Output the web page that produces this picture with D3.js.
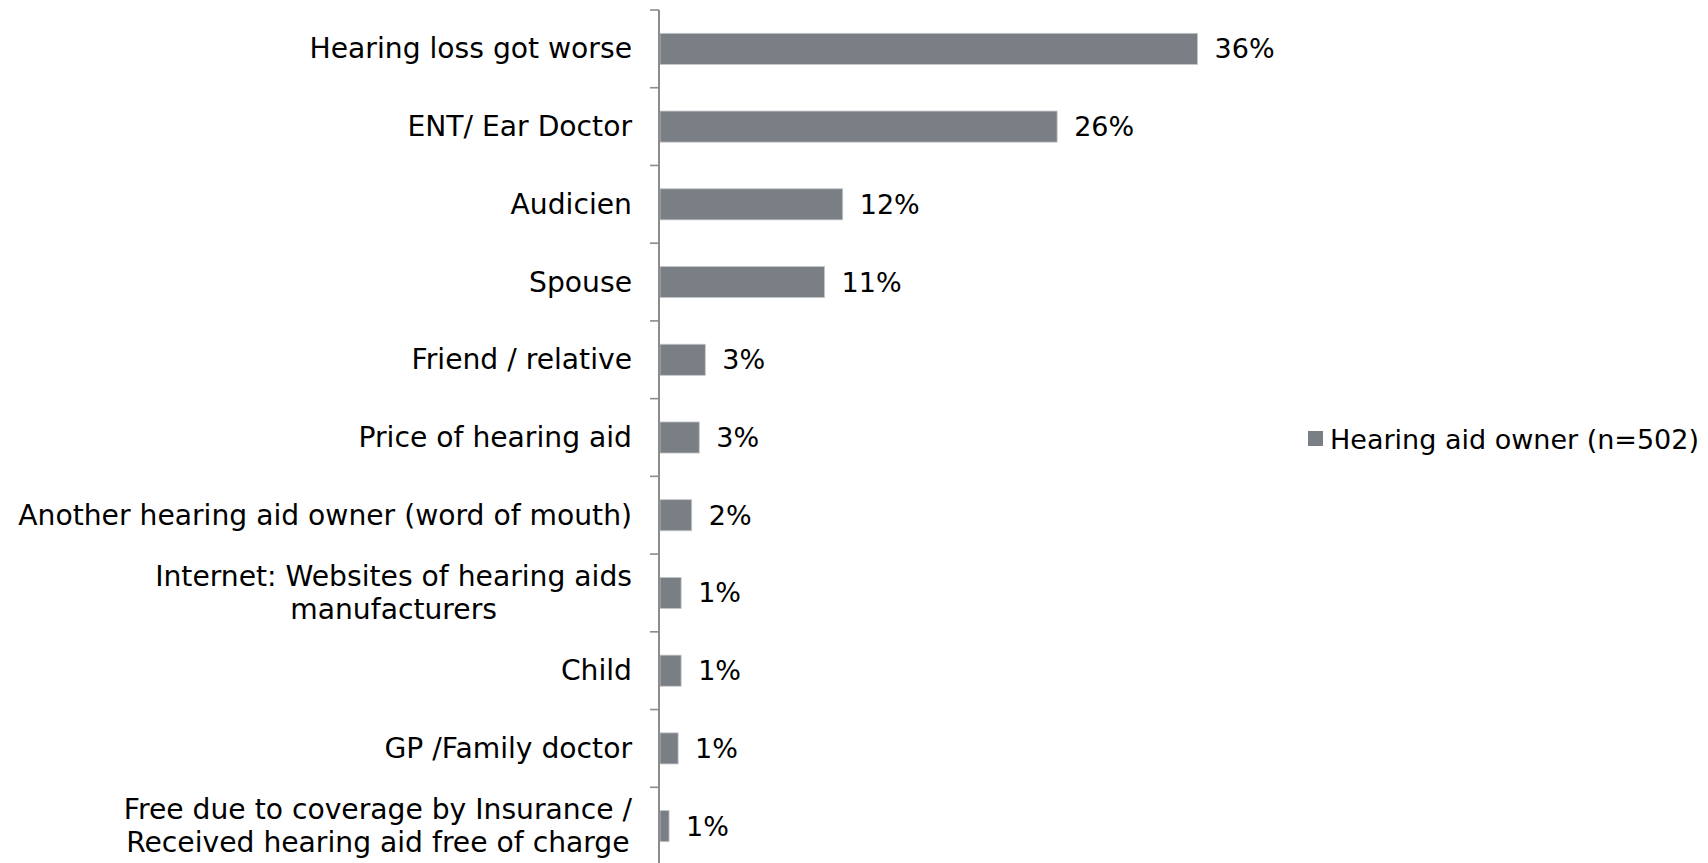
<!DOCTYPE html>
<html>
<head>
<meta charset="utf-8">
<script src="https://cdn.jsdelivr.net/npm/d3@7"></script>
<style>
  html, body { margin: 0; padding: 0; background: #ffffff; }
  svg { display: block; }
  text { font-family: "DejaVu Sans", Verdana, sans-serif; fill: #000; }
</style>
</head>
<body>
<svg id="chart" width="1708" height="863"></svg>
<script>
const categories = [
  "Hearing loss got worse",
  "ENT/ Ear Doctor",
  "Audicien",
  "Spouse",
  "Friend / relative",
  "Price of hearing aid",
  "Another hearing aid owner (word of mouth)",
  "Internet: Websites of hearing aids\nmanufacturers",
  "Child",
  "GP /Family doctor",
  "Free due to coverage by Insurance /\nReceived hearing aid free of charge"
];
const values = [35.6, 26.3, 12.1, 10.9, 3.0, 2.6, 2.1, 1.4, 1.4, 1.2, 0.6];
const valueLabels = ["36%", "26%", "12%", "11%", "3%", "3%", "2%", "1%", "1%", "1%", "1%"];
const seriesName = "Hearing aid owner (n=502)";

const barColor = "#7a7f86";
const axisColor = "#8c8c8c";

const svg = d3.select("#chart");
const axisX = 659;

const y = d3.scaleBand()
  .domain(categories)
  .range([10, 865])
  .paddingInner(0.6)
  .paddingOuter(0.3);

const x = d3.scaleLinear()
  .domain([0, 40])
  .range([axisX + 1, axisX + 1 + 604]);

const step = y.step();
const bw = y.bandwidth();
const gapTop = (step - bw) / 2;

// bars
svg.append("g").selectAll("rect")
  .data(categories)
  .join("rect")
  .attr("x", x(0))
  .attr("y", d => y(d))
  .attr("width", (d, i) => x(values[i]) - x(0))
  .attr("height", bw)
  .attr("fill", barColor)
  .attr("stroke", "#c4c7ca")
  .attr("stroke-width", 0.8);

// axis line
svg.append("line")
  .attr("x1", axisX).attr("x2", axisX)
  .attr("y1", y.range()[0]).attr("y2", y.range()[1])
  .attr("stroke", axisColor).attr("stroke-width", 2);

// ticks between categories
const tickYs = categories.map(c => y(c) - gapTop).concat([y(categories[categories.length - 1]) + bw + gapTop]);
svg.append("g").selectAll("line")
  .data(tickYs)
  .join("line")
  .attr("x1", axisX - 9).attr("x2", axisX)
  .attr("y1", d => d).attr("y2", d => d)
  .attr("stroke", axisColor).attr("stroke-width", 1.6);

// category labels
const labelFont = 28.2;
const valueFont = 27;
const lineH = 33;
const labelG = svg.append("g");
categories.forEach(c => {
  const lines = c.split("\n");
  const cy = y(c) + bw / 2;
  if (lines.length === 1) {
    labelG.append("text")
      .attr("font-size", labelFont)
      .attr("text-anchor", "end")
      .attr("dominant-baseline", "central")
      .attr("x", axisX - 27).attr("y", cy).text(lines[0]);
  } else {
    // centered block, right edge aligned
    const widths = lines.map(l => {
      const tt = labelG.append("text").attr("font-size", labelFont).text(l);
      const w = tt.node().getComputedTextLength();
      tt.remove();
      return w;
    });
    const maxW = Math.max(...widths);
    const centerX = axisX - 27 - maxW / 2;
    lines.forEach((l, k) => {
      labelG.append("text")
        .attr("font-size", labelFont)
        .attr("text-anchor", "middle")
        .attr("dominant-baseline", "central")
        .attr("x", centerX)
        .attr("y", cy + (k - (lines.length - 1) / 2) * lineH)
        .text(l);
    });
  }
});

// value labels
svg.append("g").selectAll("text")
  .data(categories)
  .join("text")
  .attr("font-size", valueFont)
  .attr("dominant-baseline", "central")
  .attr("x", (d, i) => x(values[i]) + 17)
  .attr("y", d => y(d) + bw / 2)
  .text((d, i) => valueLabels[i]);

// legend
const lg = svg.append("g").attr("transform", "translate(1308,431)");
lg.append("rect").attr("width", 15).attr("height", 15).attr("fill", barColor);
lg.append("text")
  .attr("x", 22).attr("y", 8)
  .attr("font-size", 27)
  .attr("dominant-baseline", "central")
  .text(seriesName);
</script>
</body>
</html>
